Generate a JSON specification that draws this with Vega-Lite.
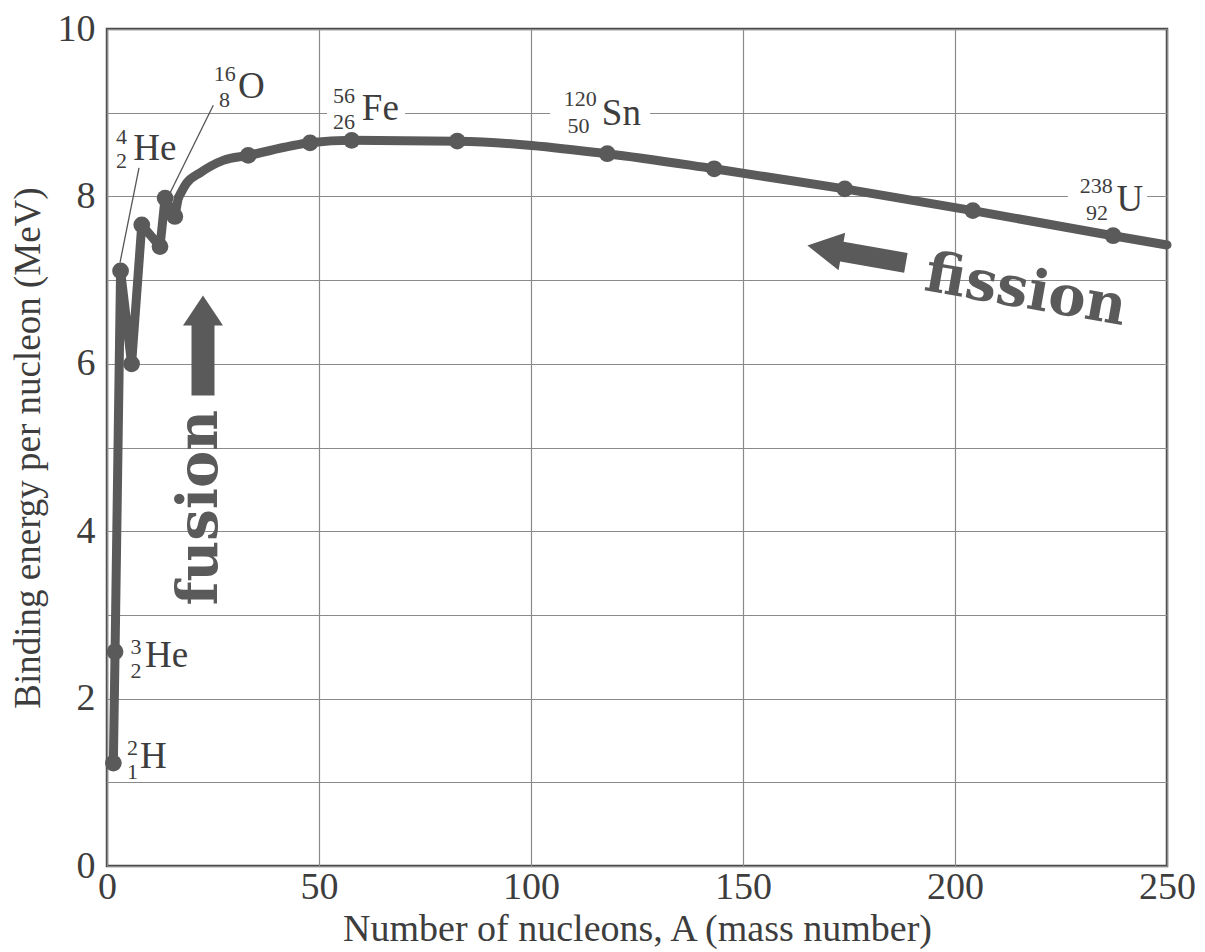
{
  "$schema": "https://vega.github.io/schema/vega-lite/v6.json",
  "width": 1060,
  "height": 837,
  "autosize": {"type": "none"},
  "padding": {"left": 107, "top": 29, "right": 38, "bottom": 86},
  "background": "white",
  "config": {
    "view": {"stroke": "#4a4a4a", "strokeWidth": 2.5},
    "font": "Liberation Serif"
  },
  "datasets": {
    "pts": [
      {"A": 1.5, "E": 1.23}, {"A": 1.9, "E": 2.56}, {"A": 3.2, "E": 7.11}, {"A": 5.8, "E": 6.0},
      {"A": 8.2, "E": 7.66}, {"A": 12.5, "E": 7.4}, {"A": 13.7, "E": 7.98}, {"A": 16.0, "E": 7.76},
      {"A": 33.3, "E": 8.49}, {"A": 47.9, "E": 8.64}, {"A": 57.7, "E": 8.67}, {"A": 82.6, "E": 8.66},
      {"A": 118, "E": 8.51}, {"A": 143.2, "E": 8.33}, {"A": 174, "E": 8.09}, {"A": 204.2, "E": 7.83},
      {"A": 237.3, "E": 7.53}
    ],
    "curve": [
      {"A": 1.5, "E": 1.23}, {"A": 1.9, "E": 2.56}, {"A": 3.2, "E": 7.11}, {"A": 5.8, "E": 6.0},
      {"A": 8.2, "E": 7.66}, {"A": 12.5, "E": 7.4}, {"A": 13.7, "E": 7.98}, {"A": 16.0, "E": 7.76},
      {"A": 16.8, "E": 7.98}, {"A": 18.8, "E": 8.16}, {"A": 21.9, "E": 8.28}, {"A": 27.4, "E": 8.43},
      {"A": 33.3, "E": 8.49}, {"A": 47.9, "E": 8.64}, {"A": 57.7, "E": 8.67}, {"A": 82.6, "E": 8.66},
      {"A": 118, "E": 8.51}, {"A": 143.2, "E": 8.33}, {"A": 174, "E": 8.09}, {"A": 204.2, "E": 7.83},
      {"A": 237.3, "E": 7.53}, {"A": 250, "E": 7.42}
    ],
    "labels": [
      {"t": "2", "role": "sup", "A": 6.0, "E": 1.33},
      {"t": "1", "role": "sub", "A": 6.0, "E": 1.04},
      {"t": "H", "role": "sym", "A": 7.8, "E": 1.167},
      {"t": "3", "role": "sup", "A": 6.84, "E": 2.53},
      {"t": "2", "role": "sub", "A": 6.84, "E": 2.25},
      {"t": "He", "role": "sym", "A": 8.96, "E": 2.38},
      {"t": "4", "role": "sup", "A": 3.4, "E": 8.63},
      {"t": "2", "role": "sub", "A": 3.4, "E": 8.34},
      {"t": "He", "role": "sym", "A": 6.2, "E": 8.43},
      {"t": "16", "role": "sup", "A": 27.8, "E": 9.38},
      {"t": "8", "role": "sub", "A": 27.7, "E": 9.07},
      {"t": "O", "role": "sym", "A": 30.9, "E": 9.18},
      {"t": "56", "role": "sup", "A": 55.9, "E": 9.11},
      {"t": "26", "role": "sub", "A": 55.9, "E": 8.81},
      {"t": "Fe", "role": "sym", "A": 60.1, "E": 8.91},
      {"t": "120", "role": "sup", "A": 111.6, "E": 9.08},
      {"t": "50", "role": "sub", "A": 111.2, "E": 8.76},
      {"t": "Sn", "role": "sym", "A": 116.7, "E": 8.85},
      {"t": "238", "role": "sup", "A": 233.3, "E": 8.04},
      {"t": "92", "role": "sub", "A": 233.5, "E": 7.72},
      {"t": "U", "role": "sym", "A": 238.1, "E": 7.82}
    ],
    "leaders": [
      {"A": 7.55, "E": 8.34, "A2": 3.07, "E2": 7.21},
      {"A": 25.07, "E": 9.09, "A2": 14.86, "E2": 8.04}
    ],
    "gaps": [
      {"A": 51.9, "A2": 70.3, "E": 8.9, "E2": 9.1},
      {"A": 104.5, "A2": 128.1, "E": 8.9, "E2": 9.1},
      {"A": 226.6, "A2": 245.3, "E": 7.9, "E2": 8.1}
    ],
    "arrows": [
      {"name": "fusion", "A": 22.64, "E": 6.22},
      {"name": "fission", "A": 176.8, "E": 7.31}
    ],
    "words": [
      {"w": "fusion", "A": 25.9, "E": 4.28},
      {"w": "fission", "A": 216.0, "E": 6.67}
    ]
  },
  "encoding": {
    "x": {
      "field": "A", "type": "quantitative",
      "scale": {"domain": [0, 250], "nice": false, "zero": true},
      "axis": {
        "values": [0, 50, 100, 150, 200, 250],
        "grid": true, "gridColor": "#8a8a8a", "gridWidth": 1.2,
        "ticks": false, "domain": false, "labelFlush": false,
        "labelFont": "Liberation Serif", "labelFontSize": 38, "labelColor": "#3d3d3d", "labelPadding": 2,
        "title": "Number of nucleons, A (mass number)",
        "titleFont": "Liberation Serif", "titleFontSize": 38, "titleFontWeight": "normal",
        "titleColor": "#3d3d3d", "titlePadding": 4
      }
    },
    "y": {
      "field": "E", "type": "quantitative",
      "scale": {"domain": [0, 10], "nice": false, "zero": true},
      "axis": {
        "values": [0, 1, 2, 3, 4, 5, 6, 7, 8, 9, 10],
        "labelExpr": "datum.value % 2 == 0 ? datum.label : ''",
        "grid": true, "gridColor": "#8a8a8a", "gridWidth": 1.2,
        "ticks": false, "domain": false, "labelFlush": false, "labelOverlap": false,
        "labelFont": "Liberation Serif", "labelFontSize": 38, "labelColor": "#3d3d3d", "labelPadding": 12,
        "title": "Binding energy per nucleon (MeV)",
        "titleFont": "Liberation Serif", "titleFontSize": 37, "titleFontWeight": "normal",
        "titleColor": "#3d3d3d", "titlePadding": 10
      }
    }
  },
  "layer": [
    {
      "data": {"name": "gaps"},
      "mark": {"type": "rect", "color": "white"},
      "encoding": {"x2": {"field": "A2"}, "y2": {"field": "E2"}}
    },
    {
      "data": {"name": "leaders"},
      "mark": {"type": "rule", "color": "#555555", "strokeWidth": 1.3},
      "encoding": {"x2": {"field": "A2"}, "y2": {"field": "E2"}}
    },
    {
      "data": {"name": "curve"},
      "transform": [{"filter": "datum.A <= 16.8"}],
      "mark": {"type": "line", "color": "#5a5a5a", "strokeWidth": 9, "strokeJoin": "round", "strokeCap": "round", "interpolate": "linear"},
      "encoding": {}
    },
    {
      "data": {"name": "curve"},
      "transform": [{"filter": "datum.A >= 16.8"}],
      "mark": {"type": "line", "color": "#5a5a5a", "strokeWidth": 9, "strokeJoin": "round", "strokeCap": "round", "interpolate": "monotone"},
      "encoding": {}
    },
    {
      "data": {"name": "pts"},
      "mark": {"type": "point", "filled": true, "opacity": 1, "color": "#5a5a5a", "size": 280},
      "encoding": {}
    },
    {
      "data": {"name": "arrows"},
      "transform": [{"filter": "datum.name == 'fusion'"}],
      "mark": {"type": "point", "filled": true, "opacity": 1, "color": "#5a5a5a", "size": 10000, "angle": 0,
        "shape": "M0,-1L0.4,-0.4L0.23,-0.4L0.23,1L-0.23,1L-0.23,-0.4L-0.4,-0.4Z"},
      "encoding": {}
    },
    {
      "data": {"name": "arrows"},
      "transform": [{"filter": "datum.name == 'fission'"}],
      "mark": {"type": "point", "filled": true, "opacity": 1, "color": "#5a5a5a", "size": 10000, "angle": 280,
        "shape": "M0,-1L0.38,-0.3L0.2,-0.3L0.2,1L-0.2,1L-0.2,-0.3L-0.38,-0.3Z"},
      "encoding": {}
    },
    {
      "data": {"name": "words"},
      "transform": [{"filter": "datum.w == 'fusion'"}],
      "mark": {"type": "text", "font": "DejaVu Serif", "fontWeight": "bold", "fontSize": 56, "color": "#5a5a5a",
        "angle": 270, "align": "center", "baseline": "alphabetic"},
      "encoding": {"text": {"field": "w"}}
    },
    {
      "data": {"name": "words"},
      "transform": [{"filter": "datum.w == 'fission'"}],
      "mark": {"type": "text", "font": "DejaVu Serif", "fontWeight": "bold", "fontSize": 56, "color": "#5a5a5a",
        "angle": 10, "align": "center", "baseline": "alphabetic"},
      "encoding": {"text": {"field": "w"}}
    },
    {
      "data": {"name": "labels"},
      "transform": [{"filter": "datum.role != 'sym'"}],
      "mark": {"type": "text", "font": "Liberation Serif", "fontSize": 22, "color": "#3d3d3d", "align": "center", "baseline": "alphabetic"},
      "encoding": {"text": {"field": "t"}}
    },
    {
      "data": {"name": "labels"},
      "transform": [{"filter": "datum.role == 'sym'"}],
      "mark": {"type": "text", "font": "Liberation Serif", "fontSize": 37, "color": "#3d3d3d", "align": "left", "baseline": "alphabetic"},
      "encoding": {"text": {"field": "t"}}
    }
  ]
}
